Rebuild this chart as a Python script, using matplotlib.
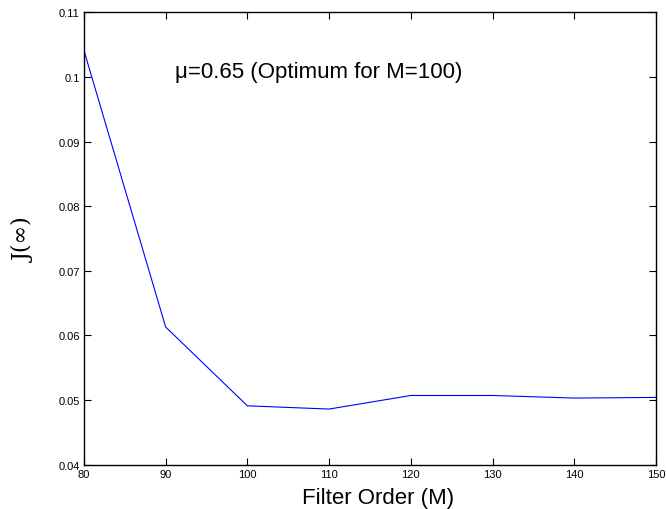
import numpy as np
import matplotlib
matplotlib.use('Agg')
import matplotlib.pyplot as plt

# Filter order vs. steady-state cost
orders = [80, 90, 100, 110, 120, 130, 140, 150]
cost = [0.1041, 0.0613, 0.0491, 0.0486, 0.0507, 0.0507, 0.0503, 0.0504]

xticks = [80, 90, 100, 110, 120, 130, 140, 150]
yticks = [0.04, 0.05, 0.06, 0.07, 0.08, 0.09, 0.1, 0.11]
ytick_labels = ['0.04', '0.05', '0.06', '0.07', '0.08', '0.09', '0.1', '0.11']

plt.rcParams['font.family'] = ['Liberation Sans', 'DejaVu Sans']

fig = plt.figure(figsize=(6.66, 5.10), dpi=100)
ax = fig.add_axes([0.126, 0.087, 0.859, 0.887])

ax.plot(orders, cost, color='blue', linewidth=0.8)

ax.set_xlim(80, 150)
ax.set_ylim(0.04, 0.11)
ax.set_xticks(xticks)
ax.set_yticks(yticks)
ax.set_yticklabels(ytick_labels)
ax.tick_params(direction='in', top=True, right=True, labelsize=8, length=5, width=0.8, pad=3)
for s in ax.spines.values():
    s.set_linewidth(1.0)

ax.set_xlabel('Filter Order (M)', fontsize=16, labelpad=6)
ax.xaxis.label.set_x(0.514)
ax.set_ylabel('J(\u221e)', fontsize=16, labelpad=17, family=['DejaVu Serif'])

ax.text(91.2, 0.1008, '\u03bc=0.65 (Optimum for M=100)', fontsize=16, va='center', ha='left')

fig.savefig('out.png', dpi=100)
